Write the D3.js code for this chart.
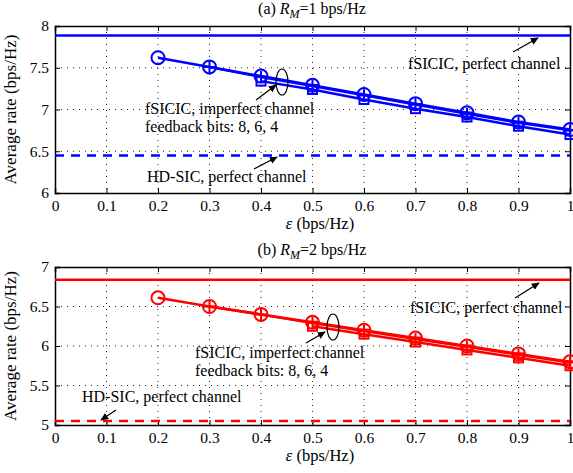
<!DOCTYPE html>
<html lang="en">
<head>
<meta charset="UTF-8">
<title>Average rate vs epsilon</title>
<style>
    body { margin: 0; padding: 0; background: #fff; }
    svg { display: block; font-family: "Liberation Serif", "Times New Roman", serif; }
    .tick text { font-size: 15.5px; font-family: "Liberation Serif", serif; fill: #000; }
    .grid line { stroke: #222; stroke-dasharray: 1,5; stroke-width: 1; }
    .note { font-size: 16px; fill: #000; }
</style>
</head>
<body>
<script src="https://d3js.org/d3.v7.min.js"></script>
<script>
// x values (epsilon, bps/Hz)
const eps = [0.2, 0.3, 0.4, 0.5, 0.6, 0.7, 0.8, 0.9, 1.0];
const xTicks = [0, 0.1, 0.2, 0.3, 0.4, 0.5, 0.6, 0.7, 0.8, 0.9, 1];

// panel (a) R_M = 1
const aPerfect = 7.885;
const aHD = 6.45;
const aBits8 = [7.62, 7.51, 7.40, 7.29, 7.18, 7.07, 6.96, 6.85, 6.76];
const aBits6 = [null, 7.51, 7.39, 7.28, 7.17, 7.06, 6.95, 6.84, 6.75];
const aBits4 = [null, null, 7.34, 7.24, 7.12, 7.01, 6.91, 6.80, 6.70];
const aYTicks = [6, 6.5, 7, 7.5, 8];

// panel (b) R_M = 2
const bPerfect = 6.84;
const bHD = 5.05;
const bBits8 = [6.61, 6.50, 6.40, 6.30, 6.20, 6.10, 6.00, 5.90, 5.80];
const bBits6 = [null, 6.50, 6.40, 6.29, 6.19, 6.09, 5.99, 5.89, 5.79];
const bBits4 = [null, null, null, 6.25, 6.15, 6.05, 5.95, 5.85, 5.75];
const bYTicks = [5, 5.5, 6, 6.5, 7];

const W = 573, H = 473;
const svg = d3.select('body').append('svg').attr('width', W).attr('height', H);

svg.append('defs').append('marker')
    .attr('id', 'arr')
    .attr('viewBox', '0 -5 10 10')
    .attr('refX', 9).attr('refY', 0)
    .attr('orient', 'auto')
    .attr('markerWidth', 8).attr('markerHeight', 8)
    .attr('markerUnits', 'userSpaceOnUse')
    .append('path').attr('d', 'M0,-4.5L10,0L0,4.5Z').attr('fill', '#000');

function panel(cfg) {
    const x = d3.scaleLinear().domain([0, 1]).range([55, 570]);
    const y = d3.scaleLinear().domain(cfg.yDomain).range([cfg.bottom, cfg.top]);
    const g = svg.append('g');

    // grid
    g.append('g').attr('class', 'grid')
        .selectAll('line').data(xTicks.slice(1, -1)).join('line')
        .attr('x1', d => x(d)).attr('x2', d => x(d))
        .attr('y1', cfg.top).attr('y2', cfg.bottom);
    g.append('g').attr('class', 'grid')
        .selectAll('line').data(cfg.yTicks.slice(1, -1)).join('line')
        .attr('x1', x(0)).attr('x2', x(1))
        .attr('y1', d => y(d)).attr('y2', d => y(d));

    // axes (inward ticks)
    const xa = g.append('g').attr('transform', `translate(0,${cfg.bottom})`)
        .call(d3.axisBottom(x).tickValues(xTicks).tickSize(-5).tickPadding(7).tickFormat(d3.format('')));
    const ya = g.append('g').attr('transform', `translate(55,0)`)
        .call(d3.axisLeft(y).tickValues(cfg.yTicks).tickSize(-5).tickPadding(6).tickFormat(d3.format('')));
    const xa2 = g.append('g').attr('transform', `translate(0,${cfg.top})`)
        .call(d3.axisTop(x).tickValues(xTicks).tickSize(-5).tickFormat(''));
    const ya2 = g.append('g').attr('transform', `translate(570,0)`)
        .call(d3.axisRight(y).tickValues(cfg.yTicks).tickSize(-5).tickFormat(''));
    [xa, ya, xa2, ya2].forEach(a => {
        a.select('.domain').attr('stroke', '#000').attr('stroke-width', 1.5);
        a.selectAll('.tick line').attr('stroke', '#000');
    });

    const col = cfg.color;
    // reference lines
    g.append('line').attr('x1', x(0)).attr('x2', x(1))
        .attr('y1', y(cfg.perfect)).attr('y2', y(cfg.perfect))
        .attr('stroke', col).attr('stroke-width', 2.5);
    g.append('line').attr('x1', x(0)).attr('x2', x(1))
        .attr('y1', y(cfg.hd)).attr('y2', y(cfg.hd))
        .attr('stroke', col).attr('stroke-width', 2.5).attr('stroke-dasharray', '9,7');

    const line = d3.line().defined(d => d[1] != null).x(d => x(d[0])).y(d => y(d[1]));
    const series = [
        { vals: cfg.b8, mark: 'circle' },
        { vals: cfg.b6, mark: 'plus' },
        { vals: cfg.b4, mark: 'square' }
    ];
    series.forEach(s => {
        const pts = eps.map((e, i) => [e, s.vals[i]]);
        g.append('path').datum(pts).attr('d', line)
            .attr('fill', 'none').attr('stroke', col).attr('stroke-width', 2.5);
        const pp = pts.filter(d => d[1] != null);
        const m = g.append('g').selectAll('g').data(pp).join('g')
            .attr('transform', d => `translate(${x(d[0])},${y(d[1])})`);
        if (s.mark === 'circle') {
            m.append('circle').attr('r', 6.5).attr('fill', 'none').attr('stroke', col).attr('stroke-width', 2);
        } else if (s.mark === 'plus') {
            m.append('path').attr('d', 'M-6,0H6M0,-6V6').attr('stroke', col).attr('stroke-width', 2);
        } else {
            m.append('rect').attr('x', -4.5).attr('y', -4.5).attr('width', 9).attr('height', 9)
                .attr('fill', 'none').attr('stroke', col).attr('stroke-width', 2);
        }
    });

    // title
    const t = svg.append('text').attr('x', 312).attr('y', cfg.top - 12)
        .attr('text-anchor', 'middle').attr('font-size', 16);
    t.append('tspan').text(cfg.label + ' ');
    t.append('tspan').attr('font-style', 'italic').text('R');
    t.append('tspan').attr('font-style', 'italic').attr('font-size', 12).attr('dy', 4).text('M');
    t.append('tspan').attr('dy', -4).text('=' + cfg.rm + ' bps/Hz');

    // axis labels
    const xl = svg.append('text').attr('x', 320).attr('y', cfg.bottom + 36)
        .attr('text-anchor', 'middle').attr('font-size', 16.5);
    xl.append('tspan').attr('font-style', 'italic').text('ε');
    xl.append('tspan').text(' (bps/Hz)');
    svg.append('text')
        .attr('transform', `translate(16,${(cfg.top + cfg.bottom) / 2}) rotate(-90)`)
        .attr('text-anchor', 'middle').attr('font-size', 17)
        .text('Average rate (bps/Hz)');

    // annotations
    cfg.notes.forEach(n => {
        svg.append('text').attr('class', 'note').attr('x', n.x).attr('y', n.y).text(n.t);
    });
    cfg.arrows.forEach(a => {
        svg.append('line').attr('x1', a[0]).attr('y1', a[1]).attr('x2', a[2]).attr('y2', a[3])
            .attr('stroke', '#000').attr('stroke-width', 1.3).attr('marker-end', 'url(#arr)');
    });
    svg.append('ellipse').attr('cx', cfg.ell[0]).attr('cy', cfg.ell[1])
        .attr('rx', 6).attr('ry', 13).attr('fill', 'none').attr('stroke', '#000').attr('stroke-width', 1.2);
}

panel({
    label: '(a)', rm: 1, color: '#0000ff', top: 26, bottom: 193, yDomain: [6, 8], yTicks: aYTicks,
    perfect: aPerfect, hd: aHD, b8: aBits8, b6: aBits6, b4: aBits4,
    notes: [
        { x: 408, y: 69, t: 'fSICIC, perfect channel' },
        { x: 145, y: 114, t: 'fSICIC, imperfect channel' },
        { x: 145, y: 132, t: 'feedback bits: 8, 6, 4' },
        { x: 147, y: 182, t: 'HD-SIC, perfect channel' }
    ],
    arrows: [[513, 52, 538, 38], [256, 100, 276, 85], [254, 169, 277, 157]],
    ell: [282, 82]
});

panel({
    label: '(b)', rm: 2, color: '#ff0000', top: 267, bottom: 425, yDomain: [5, 7], yTicks: bYTicks,
    perfect: bPerfect, hd: bHD, b8: bBits8, b6: bBits6, b4: bBits4,
    notes: [
        { x: 410, y: 313, t: 'fSICIC, perfect channel' },
        { x: 195, y: 358, t: 'fSICIC, imperfect channel' },
        { x: 195, y: 376, t: 'feedback bits: 8, 6, 4' },
        { x: 82, y: 402, t: 'HD-SIC, perfect channel' }
    ],
    arrows: [[515, 298, 539, 283], [306, 343, 325, 332], [116, 410, 101, 420]],
    ell: [333, 327]
});
</script>
</body>
</html>
